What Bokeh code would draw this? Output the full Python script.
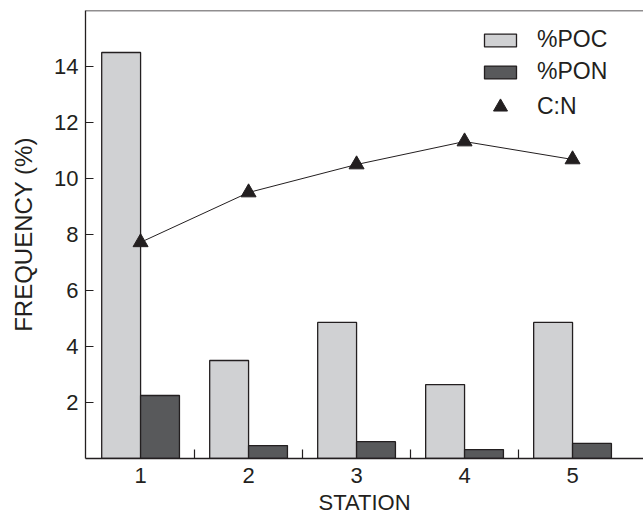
from bokeh.plotting import figure
from bokeh.models import (ColumnDataSource, FixedTicker, Range1d, Legend, LegendItem, Span)
from bokeh.embed import file_html
from bokeh.resources import INLINE

stations = [1, 2, 3, 4, 5]
poc = [14.5, 3.5, 4.86, 2.64, 4.86]
pon = [2.25, 0.46, 0.6, 0.32, 0.54]
cn = [7.72, 9.5, 10.5, 11.32, 10.68]
y_ticks = [2, 4, 6, 8, 10, 12, 14]

BAR_W = 0.36
src = ColumnDataSource(dict(
    x=stations,
    x_poc=[s - BAR_W / 2 for s in stations],
    x_pon=[s + BAR_W / 2 for s in stations],
    poc=poc, pon=pon, cn=cn,
))

FONT = "Liberation Sans"
INK = "#231f20"

p = figure(frame_width=558, frame_height=448, output_backend="svg", toolbar_location=None,
           x_range=Range1d(0.49, 5.657), y_range=Range1d(0, 16),
           min_border_left=85, min_border_right=0, min_border_top=10, min_border_bottom=56)
p.outline_line_color = None
p.grid.visible = False
p.background_fill_color = "white"

r_poc = p.vbar(x="x_poc", top="poc", width=BAR_W, bottom=0, source=src,
               fill_color="#d0d1d3", line_color=INK, line_width=1.3)
r_pon = p.vbar(x="x_pon", top="pon", width=BAR_W, bottom=0, source=src,
               fill_color="#58595b", line_color=INK, line_width=1.3)
p.line(x="x", y="cn", source=src, line_color=INK, line_width=1)
r_cn = p.scatter(x="x", y="cn", source=src, marker="triangle", size=15,
                 fill_color=INK, line_color=INK)

top = Span(location=16, dimension="width", line_color=INK, line_width=1.3)
p.add_layout(top)

xa = p.xaxis[0]
xa.ticker = FixedTicker(ticks=stations, minor_ticks=[1.5, 2.5, 3.5, 4.5])
xa.major_tick_line_color = None
xa.major_tick_in = 0
xa.major_tick_out = 0
xa.minor_tick_in = 9
xa.minor_tick_out = 0
xa.minor_tick_line_color = INK
xa.minor_tick_line_width = 1.2
xa.axis_line_color = INK
xa.axis_line_width = 1.3
xa.axis_label = "STATION"
xa.major_label_standoff = 9
xa.axis_label_standoff = 4

ya = p.yaxis[0]
ya.ticker = FixedTicker(ticks=y_ticks, minor_ticks=[])
ya.major_tick_in = 8
ya.major_tick_out = 0
ya.major_tick_line_color = INK
ya.major_tick_line_width = 1.2
ya.axis_line_color = INK
ya.axis_line_width = 1.3
ya.axis_label = "FREQUENCY (%)"
ya.major_label_standoff = 7
ya.axis_label_standoff = 14

for ax in (xa, ya):
    ax.major_label_text_font = FONT
    ax.major_label_text_font_size = "22px"
    ax.major_label_text_color = INK
    ax.axis_label_text_font = FONT
    ax.axis_label_text_font_style = "normal"
    ax.axis_label_text_color = INK
xa.axis_label_text_font_size = "22px"
ya.axis_label_text_font_size = "24px"


def style_legend(lg):
    lg.glyph_width = 40
    lg.padding = 0
    lg.margin = 0
    lg.label_standoff = 17
    lg.label_text_font = FONT
    lg.label_text_font_size = "23px"
    lg.label_text_color = INK
    lg.border_line_color = None
    lg.background_fill_alpha = 0


legend_bars = Legend(items=[
    LegendItem(label="%POC", renderers=[r_poc]),
    LegendItem(label="%PON", renderers=[r_pon]),
], location=(395, 373))
style_legend(legend_bars)
legend_bars.glyph_height = 16
legend_bars.label_height = 20
legend_bars.spacing = 5

legend_cn = Legend(items=[LegendItem(label="C:N", renderers=[r_cn])],
                   location=(395, 334))
style_legend(legend_cn)
legend_cn.glyph_height = 35
legend_cn.label_height = 20

p.add_layout(legend_bars, "center")
p.add_layout(legend_cn, "center")

open("out.html", "w").write(file_html(p, INLINE))
